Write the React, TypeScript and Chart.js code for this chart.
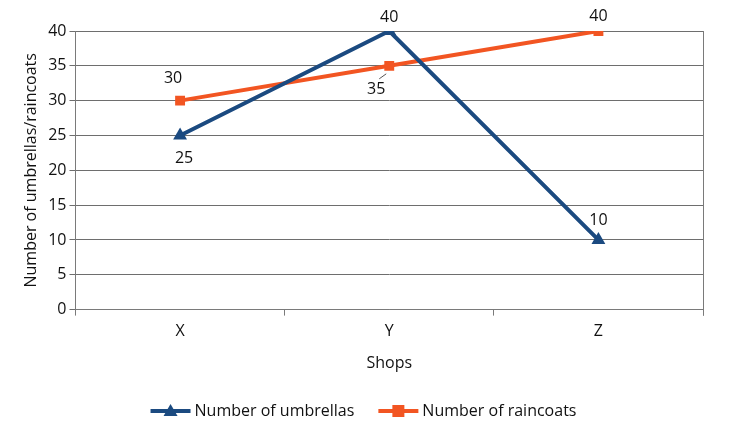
import React, { useEffect, useRef } from "react";
import { Chart, registerables } from "chart.js";

Chart.register(...registerables);

const categories = ["X", "Y", "Z"];
const umbrellas = [25, 40, 10];
const raincoats = [30, 35, 40];
const yTicks = [0, 5, 10, 15, 20, 25, 30, 35, 40];

const BLUE = "#1b4a80";
const ORANGE = "#f25522";
const FONT = "'Open Sans', 'Liberation Sans', sans-serif";

// label offsets (dx, dy) for each series' points
const labelOffsets = [
  [[4, 23], [0, -14], [0, -20]],
  [[-7, -22], [-13, 24], [0, -15]],
];

const customPlugin = {
  id: "custom",
  afterDatasetsDraw(chart: any) {
    const ctx = chart.ctx;
    const area = chart.chartArea;
    ctx.save();
    // right border
    ctx.strokeStyle = "#7a7a7a";
    ctx.lineWidth = 1;
    ctx.beginPath();
    ctx.moveTo(Math.round(area.right) + 0.5, area.top);
    ctx.lineTo(Math.round(area.right) + 0.5, area.bottom + 6);
    ctx.stroke();
    // data labels
    ctx.fillStyle = "#111";
    ctx.font = `16px ${FONT}`;
    ctx.textAlign = "center";
    ctx.textBaseline = "middle";
    chart.data.datasets.forEach((ds: any, di: number) => {
      const meta = chart.getDatasetMeta(di);
      meta.data.forEach((pt: any, i: number) => {
        const [dx, dy] = labelOffsets[di][i];
        ctx.fillText(String(ds.data[i]), pt.x + dx, pt.y + dy);
        if (di === 1 && i === 1) {
          ctx.strokeStyle = "#555";
          ctx.lineWidth = 1;
          ctx.beginPath();
          ctx.moveTo(pt.x - 10, pt.y + 13);
          ctx.lineTo(pt.x - 3, pt.y + 8);
          ctx.stroke();
        }
      });
    });
    // legend
    const items = [
      { label: "Number of umbrellas", color: BLUE, style: "triangle" },
      { label: "Number of raincoats", color: ORANGE, style: "rect" },
    ];
    ctx.font = `16px ${FONT}`;
    ctx.textAlign = "left";
    const lineW = 40;
    const gap = 24;
    const widths = items.map((it) => lineW + 4 + ctx.measureText(it.label).width);
    const total = widths.reduce((a, b) => a + b, 0) + gap;
    let x = chart.width / 2 - total / 2 - 10;
    const y = chart.height - 25;
    items.forEach((it, k) => {
      ctx.strokeStyle = it.color;
      ctx.fillStyle = it.color;
      ctx.lineWidth = 4;
      ctx.beginPath();
      ctx.moveTo(x, y);
      ctx.lineTo(x + lineW, y);
      ctx.stroke();
      const cx = x + lineW / 2;
      ctx.beginPath();
      if (it.style === "triangle") {
        ctx.moveTo(cx, y - 7);
        ctx.lineTo(cx + 7, y + 5);
        ctx.lineTo(cx - 7, y + 5);
        ctx.closePath();
      } else {
        ctx.rect(cx - 6, y - 6, 12, 12);
      }
      ctx.fill();
      ctx.fillStyle = "#111";
      ctx.fillText(it.label, x + lineW + 4, y);
      x += widths[k] + gap;
    });
    ctx.restore();
  },
};

export default function App() {
  const ref = useRef<HTMLCanvasElement>(null);
  useEffect(() => {
    if (!ref.current) return;
    const chart = new Chart(ref.current, {
      type: "line",
      data: {
        labels: categories,
        datasets: [
          {
            label: "Number of umbrellas",
            data: umbrellas,
            borderColor: BLUE,
            backgroundColor: BLUE,
            borderWidth: 4,
            pointStyle: "triangle",
            pointRadius: 8,
            pointBorderWidth: 0,
            tension: 0,
          },
          {
            label: "Number of raincoats",
            data: raincoats,
            borderColor: ORANGE,
            backgroundColor: ORANGE,
            borderWidth: 4,
            pointStyle: "rect",
            pointRadius: 7,
            pointBorderWidth: 0,
            tension: 0,
          },
        ],
      },
      options: {
        animation: false,
        responsive: true,
        maintainAspectRatio: false,
        layout: { padding: { top: 31, right: 44, bottom: 59, left: 18 } },
        plugins: {
          legend: { display: false },
          tooltip: { enabled: false },
        },
        scales: {
          x: {
            type: "category",
            offset: true,
            grid: {
              offset: true,
              drawOnChartArea: false,
              drawTicks: true,
              tickLength: 6,
              color: "#7a7a7a",
            },
            border: { color: "#7a7a7a", width: 1 },
            ticks: { color: "#111", font: { size: 16, family: FONT }, padding: 6 },
            title: {
              display: true,
              text: "Shops",
              color: "#111",
              font: { size: 16, family: FONT },
              padding: { top: 7 },
            },
          },
          y: {
            min: 0,
            max: 40,
            afterBuildTicks: (axis: any) => {
              axis.ticks = yTicks.map((v) => ({ value: v }));
            },
            grid: { color: "#6e6e6e", tickLength: 6 },
            border: { color: "#7a7a7a", width: 1 },
            ticks: { color: "#111", font: { size: 16, family: FONT }, padding: 3 },
            title: {
              display: true,
              text: "Number of umbrellas/raincoats",
              color: "#111",
              font: { size: 16, family: FONT },
              padding: { bottom: 4 },
            },
          },
        },
      },
      plugins: [customPlugin],
    });
    return () => chart.destroy();
  }, []);
  return (
    <div style={{ position: "fixed", left: 0, top: 0, width: 747, height: 436, background: "#fff" }}>
      <canvas ref={ref} />
    </div>
  );
}
